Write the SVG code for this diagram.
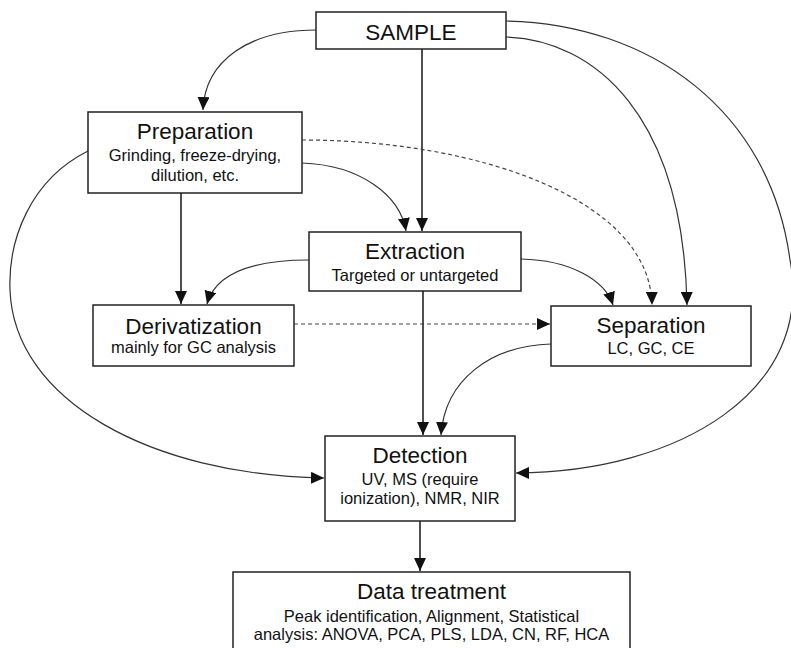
<svg xmlns="http://www.w3.org/2000/svg" width="791" height="648" viewBox="0 0 791 648">
<style>
.box{fill:#fff;stroke:#222;stroke-width:1.5}
.t{font-family:"Liberation Sans",Arial,sans-serif;font-size:22.5px;fill:#111;text-anchor:middle}
.s{font-family:"Liberation Sans",Arial,sans-serif;font-size:16.5px;fill:#111;text-anchor:middle}
.c{fill:none;stroke:#333;stroke-width:1.2;marker-end:url(#ah)}
.v{fill:none;stroke:#222;stroke-width:1.6;marker-end:url(#ah)}
.d{fill:none;stroke:#444;stroke-width:1.2;stroke-dasharray:4 3;marker-end:url(#ah)}
</style>
<defs>
<marker id="ah" markerUnits="userSpaceOnUse" markerWidth="13" markerHeight="12" refX="13" refY="6" orient="auto">
<path d="M0,0 L13,6 L0,12 z" fill="#111"/>
</marker>
</defs>
<rect width="791" height="648" fill="#fff"/>
<g id="connectors">
<path class="c" d="M316,30 C250,30 205,60 203,110"/>
<path class="v" d="M422,49 L422,231"/>
<path class="c" d="M506,21 C650,24 770,110 790,260 C815,390 680,472 516,473"/>
<path class="c" d="M506,37 C595,40 683,115 687,305"/>
<path class="d" d="M302,140 C480,140 650,200 652,305"/>
<path class="c" d="M302,163 C360,165 400,195 406,231"/>
<path class="v" d="M181,193 L181,304"/>
<path class="c" d="M309,260 C250,260 215,275 207,304"/>
<path class="c" d="M521,259 C570,260 605,280 613,305"/>
<path class="d" d="M294,324 L550,324"/>
<path class="v" d="M423,291 L423,435"/>
<path class="c" d="M551,344 C490,346 445,380 441,435"/>
<path class="c" d="M88,151 C30,180 8,240 10,290 C14,400 150,475 324,478"/>
<path class="v" d="M420,521 L420,571"/>
</g>
<g id="sample">
<rect class="box" x="316" y="12" width="190" height="37"/>
<text class="t" x="411" y="40">SAMPLE</text>
</g>
<g id="preparation">
<rect class="box" x="88" y="112" width="214" height="81"/>
<text class="t" x="195" y="139">Preparation</text>
<text class="s" x="195" y="161">Grinding, freeze-drying,</text>
<text class="s" x="195" y="181">dilution, etc.</text>
</g>
<g id="extraction">
<rect class="box" x="309" y="232" width="212" height="59"/>
<text class="t" x="415" y="259">Extraction</text>
<text class="s" x="415" y="281">Targeted or untargeted</text>
</g>
<g id="derivatization">
<rect class="box" x="93" y="305" width="201" height="61"/>
<text class="t" x="193.5" y="334">Derivatization</text>
<text class="s" x="193.5" y="353">mainly for GC analysis</text>
</g>
<g id="separation">
<rect class="box" x="551" y="306" width="200" height="60"/>
<text class="t" x="651" y="333">Separation</text>
<text class="s" x="651" y="354">LC, GC, CE</text>
</g>
<g id="detection">
<rect class="box" x="325" y="436" width="190" height="85"/>
<text class="t" x="420" y="463">Detection</text>
<text class="s" x="420" y="485">UV, MS (require</text>
<text class="s" x="420" y="504">ionization), NMR, NIR</text>
</g>
<g id="datatreatment">
<rect class="box" x="233" y="572" width="397" height="90"/>
<text class="t" x="431.5" y="599">Data treatment</text>
<text class="s" x="431.5" y="622">Peak identification, Alignment, Statistical</text>
<text class="s" x="431.5" y="640">analysis: ANOVA, PCA, PLS, LDA, CN, RF, HCA</text>
</g>
</svg>
